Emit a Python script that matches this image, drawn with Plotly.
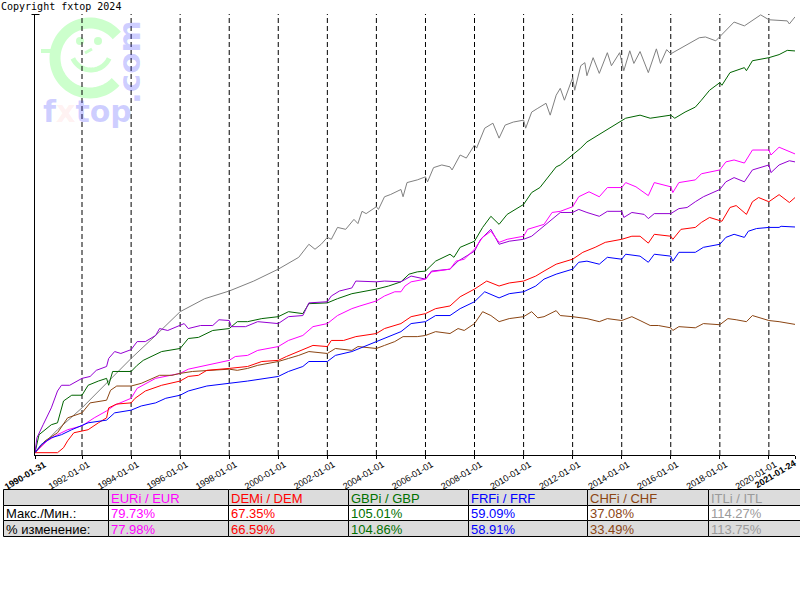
import numpy as np
import plotly.graph_objects as go

# ---------------- data (percent change since 1990-01-31) ----------------
itl_dates = ["1990-01-31", "1991-01", "1992-01", "1993-01", "1994-01", "1995-01", "1996-01", "1997-01",
             "1998-01", "1999-01", "2000-01", "2000-11", "2001-04", "2001-07", "2001-10", "2002-01",
             "2002-03", "2002-06", "2002-10", "2003-02", "2003-04", "2003-06", "2003-08", "2004-01",
             "2004-02", "2004-05", "2004-08", "2005-01", "2005-02", "2005-04", "2005-09", "2006-01",
             "2006-02", "2006-05", "2006-09", "2007-01", "2007-02", "2007-06", "2007-09", "2008-01",
             "2008-02", "2008-06", "2008-10", "2009-01", "2009-04", "2009-08", "2010-01", "2010-02",
             "2010-05", "2010-08", "2010-12", "2011-02", "2011-05", "2011-07", "2011-09", "2012-01",
             "2012-02", "2012-05", "2012-07", "2012-08", "2012-11", "2013-02", "2013-06", "2013-08",
             "2013-12", "2014-02", "2014-05", "2014-07", "2014-10", "2015-02", "2015-06", "2015-08",
             "2015-11", "2016-01", "2016-08", "2017-03", "2017-06", "2017-11", "2018-08", "2019-01",
             "2019-09", "2020-01", "2020-10", "2020-11", "2021-01-24"]
itl_vals = [0, 6.0, 11.7, 18.1, 24.6, 30.6, 36.8, 40.2,
            42.2, 44.8, 47.9, 51.0, 54.4, 53.1, 54.4, 56.2,
            55.7, 58.8, 58.3, 60.9, 59.8, 63.0, 62.4, 64.2,
            63.5, 66.8, 67.4, 68.7, 66.8, 70.5, 71.2, 72.0,
            70.7, 74.4, 75.1, 74.6, 73.8, 77.7, 76.9, 80.3,
            79.5, 84.7, 86.0, 82.1, 85.5, 86.3, 86.8, 84.7,
            88.9, 89.9, 91.2, 88.1, 93.3, 95.1, 92.0, 97.9,
            94.6, 101.0, 101.8, 98.4, 103.1, 99.0, 104.4, 101.0,
            104.4, 99.7, 104.9, 101.6, 104.7, 99.2, 105.4, 101.6,
            105.2, 104.1, 106.2, 108.3, 108.5, 107.5, 112.4, 111.4,
            114.27, 113.0, 112.7, 111.9, 113.75]

gbp_dates = ["1990-01-31", "1990-04", "1990-10", "1991-01", "1991-04", "1991-08", "1992-01", "1992-04",
             "1992-09", "1993-01", "1993-02", "1993-04", "1994-01", "1994-04", "1994-07", "1995-04",
             "1996-01", "1996-05", "1996-10", "1997-05", "1998-01", "1998-05", "1998-10", "1999-05",
             "2000-01", "2000-06", "2001-01", "2001-04", "2002-01", "2002-06", "2003-01", "2003-07",
             "2004-01", "2004-07", "2005-01", "2005-05", "2005-09", "2006-01", "2006-06", "2007-01",
             "2007-03", "2007-06", "2008-01", "2008-05", "2008-09", "2009-01", "2009-05", "2010-01",
             "2010-05", "2010-09", "2011-05", "2011-07", "2012-01", "2012-05", "2012-08", "2013-03",
             "2013-12", "2014-03", "2014-10", "2015-03", "2016-01", "2016-03", "2016-08", "2017-01",
             "2017-04", "2017-08", "2018-01", "2018-02", "2018-06", "2019-01", "2019-02", "2019-05",
             "2020-01", "2020-06", "2020-10", "2021-01-24"]
gbp_vals = [0, 4.7, 7.3, 7.8, 13.5, 15.0, 15.0, 17.6,
            18.7, 19.4, 17.6, 21.2, 21.2, 22.8, 24.1, 26.4,
            27.2, 29.8, 30.1, 31.9, 32.4, 34.2, 34.2, 35.0,
            35.5, 36.8, 36.3, 38.9, 39.1, 40.2, 41.5, 42.0,
            42.7, 43.5, 44.6, 46.6, 47.2, 47.4, 50.0, 51.8,
            51.0, 53.6, 55.2, 58.8, 61.7, 59.6, 62.2, 64.8,
            67.9, 69.2, 74.6, 75.1, 77.7, 79.5, 81.1, 83.4,
            86.3, 87.3, 88.1, 87.3, 88.1, 87.3, 88.9, 90.2,
            92.0, 94.6, 96.6, 95.9, 99.2, 100.5, 99.7, 102.3,
            103.1, 103.9, 105.01, 104.86]

eur_dates = ["1990-01-31", "1990-08", "1991-01", "1991-06", "1992-01", "1992-07", "1993-01", "1993-05",
             "1994-01", "1994-04", "1995-01", "1996-01", "1996-05", "1997-02", "1998-01", "1998-04",
             "1998-10", "1999-03", "2000-01", "2000-06", "2001-01", "2001-06", "2002-01", "2002-06",
             "2003-01", "2003-05", "2004-01", "2004-05", "2004-10", "2005-01", "2005-03", "2005-06",
             "2006-01", "2006-04", "2007-01", "2007-04", "2007-08", "2008-01", "2008-05", "2008-09",
             "2009-01", "2009-05", "2010-01", "2010-03", "2010-11", "2011-03", "2011-07", "2012-01",
             "2012-04", "2012-09", "2013-02", "2013-06", "2014-01", "2014-03", "2014-08", "2015-02",
             "2015-05", "2016-01", "2016-02", "2016-05", "2017-01", "2017-04", "2018-01", "2018-04",
             "2018-08", "2019-01", "2019-05", "2020-01", "2020-02", "2020-06", "2021-01-24"]
eur_vals = [0, 3.1, 4.7, 6.0, 7.0, 9.1, 10.9, 12.4,
            14.2, 16.8, 19.4, 20.7, 21.8, 22.8, 24.1, 25.1,
            25.4, 26.7, 27.7, 29.3, 30.6, 32.9, 33.7, 35.8,
            37.6, 38.3, 39.6, 40.9, 42.0, 42.0, 43.5, 44.6,
            45.3, 47.2, 47.9, 50.0, 50.5, 53.1, 56.2, 57.8,
            54.9, 55.7, 56.5, 58.3, 59.6, 62.7, 63.0, 64.2,
            66.8, 68.1, 66.8, 69.2, 69.2, 70.5, 69.4, 67.1,
            70.5, 69.4, 67.9, 70.5, 71.2, 72.8, 73.8, 75.9,
            76.4, 75.6, 79.0, 79.0, 77.7, 79.73, 77.98]

dem_dates = ["1990-01-31", "1991-01", "1991-04", "1991-06", "1991-09", "1992-04", "1992-09", "1993-01",
             "1993-02", "1993-06", "1994-01", "1994-03", "1994-08", "1995-04", "1996-01", "1996-05",
             "1996-10", "1997-02", "1998-01", "1998-10", "1999-05", "2000-01", "2000-05", "2000-11",
             "2001-06", "2002-01", "2002-03", "2002-09", "2003-03", "2004-01", "2004-05", "2005-01",
             "2005-06", "2006-01", "2006-06", "2007-01", "2007-06", "2008-01", "2008-07", "2009-01",
             "2009-06", "2010-01", "2010-07", "2010-11", "2011-05", "2012-01", "2012-06", "2012-12",
             "2013-05", "2014-01", "2014-06", "2014-10", "2015-02", "2015-05", "2016-01", "2016-02",
             "2016-06", "2017-01", "2017-04", "2017-08", "2018-02", "2018-06", "2018-09", "2019-02",
             "2019-05", "2019-08", "2020-01", "2020-06", "2020-11", "2021-01-24"]
dem_vals = [0, 0, 1.3, 3.1, 5.2, 6.0, 7.8, 9.1,
            11.7, 12.7, 13.0, 14.2, 16.1, 17.6, 18.7, 19.9,
            20.2, 21.5, 22.0, 22.5, 23.8, 24.1, 25.1, 26.4,
            28.0, 27.7, 29.3, 29.3, 30.3, 31.1, 32.4, 33.7,
            35.5, 36.3, 37.6, 38.3, 40.7, 42.7, 44.8, 43.5,
            44.3, 44.8, 46.1, 47.4, 49.2, 50.5, 52.3, 53.6,
            54.9, 55.7, 56.5, 56.5, 54.7, 57.0, 56.5, 55.7,
            58.3, 58.8, 60.1, 61.4, 60.4, 64.0, 64.5, 62.2,
            65.5, 66.6, 65.5, 67.35, 65.3, 66.59]

frf_dates = ["1990-01-31", "1990-05", "1990-10", "1991-03", "1991-08", "1992-01", "1992-04", "1993-01",
             "1993-05", "1994-01", "1994-06", "1995-01", "1995-06", "1996-01", "1996-05", "1997-02",
             "1998-01", "1998-10", "2000-01", "2000-06", "2001-01", "2001-04", "2002-01", "2002-05",
             "2003-01", "2003-07", "2004-01", "2004-05", "2005-01", "2005-06", "2006-01", "2006-06",
             "2007-01", "2007-06", "2008-01", "2008-06", "2009-01", "2009-06", "2010-01", "2010-07",
             "2010-11", "2011-05", "2012-01", "2012-04", "2012-08", "2013-02", "2013-06", "2014-01",
             "2014-03", "2014-10", "2015-02", "2015-05", "2016-01", "2016-02", "2016-05", "2017-01",
             "2017-05", "2018-01", "2018-04", "2018-08", "2019-01", "2019-03", "2019-07", "2020-01",
             "2020-06", "2020-07", "2021-01-24"]
frf_vals = [0, 2.1, 3.9, 4.7, 6.0, 7.0, 7.8, 8.5,
            10.4, 11.1, 12.2, 13.0, 14.2, 15.0, 16.1, 17.4,
            18.1, 18.7, 19.9, 21.2, 22.5, 23.8, 23.8, 25.4,
            26.4, 27.7, 29.0, 29.8, 31.6, 33.7, 34.2, 35.8,
            35.8, 37.6, 39.4, 42.0, 40.4, 41.5, 42.0, 43.5,
            45.3, 46.6, 47.9, 49.7, 50.0, 49.2, 51.0, 50.5,
            51.8, 51.3, 49.7, 51.8, 51.3, 50.0, 52.3, 52.3,
            53.6, 54.4, 56.2, 57.0, 56.2, 57.8, 58.5, 58.8,
            58.8, 59.09, 58.91]

chf_dates = ["1990-01-31", "1990-07", "1991-01", "1991-06", "1992-01", "1992-03", "1992-05", "1993-01",
             "1993-03", "1993-06", "1994-01", "1994-06", "1995-01", "1995-03", "1995-09", "1996-01",
             "1996-07", "1997-02", "1998-01", "1998-05", "1998-10", "1999-03", "2000-01", "2000-06",
             "2000-11", "2001-04", "2002-01", "2002-05", "2003-01", "2003-04", "2004-01", "2004-05",
             "2004-10", "2005-02", "2005-09", "2006-01", "2006-06", "2007-01", "2007-05", "2007-08",
             "2008-01", "2008-05", "2008-09", "2009-01", "2009-06", "2010-01", "2010-05", "2010-08",
             "2010-11", "2011-05", "2011-07", "2012-01", "2012-08", "2013-02", "2013-06", "2014-01",
             "2014-06", "2014-10", "2015-03", "2015-07", "2016-01", "2016-02", "2016-05", "2017-01",
             "2017-05", "2018-01", "2018-05", "2018-09", "2019-02", "2019-05", "2020-01", "2020-06",
             "2021-01-24"]
chf_vals = [0, 3.1, 5.2, 9.1, 10.4, 11.7, 13.0, 13.7,
            16.3, 17.4, 17.4, 18.1, 19.7, 20.2, 20.2, 20.7,
            21.2, 21.5, 21.8, 21.5, 22.0, 22.8, 23.8, 24.6,
            25.4, 26.4, 25.9, 27.2, 26.7, 27.7, 27.2, 28.0,
            29.0, 30.3, 30.3, 30.6, 31.6, 31.1, 32.4, 31.9,
            33.7, 36.8, 35.8, 34.2, 35.0, 35.5, 36.8, 35.2,
            35.5, 37.08, 35.8, 35.5, 35.0, 34.2, 35.0, 34.5,
            35.5, 34.5, 33.2, 33.2, 32.6, 31.9, 32.9, 32.6,
            33.7, 33.4, 35.0, 34.7, 34.2, 35.8, 34.5, 34.2,
            33.49]

# seventh (purple) series without a table column
xxx_dates = ["1990-01-31", "1990-03", "1990-06", "1990-10", "1991-01", "1991-03", "1991-07", "1992-01",
             "1992-05", "1992-08", "1993-01", "1993-02", "1993-05", "1993-08", "1994-01", "1994-04",
             "1994-08", "1995-01", "1995-03", "1995-07", "1996-03", "1996-05", "1996-11", "1997-05",
             "1997-08", "1998-01", "1998-02", "1998-09", "1999-03", "2000-01", "2000-06", "2001-01",
             "2001-04", "2002-01", "2002-03", "2002-07", "2003-01", "2003-03", "2004-01", "2004-05",
             "2005-01", "2005-06", "2006-01", "2006-04", "2007-01", "2007-05", "2008-01", "2008-04",
             "2008-09", "2009-01", "2009-06", "2010-01", "2010-05", "2010-11", "2011-02", "2011-07",
             "2012-01", "2012-04", "2012-08", "2013-02", "2013-06", "2014-01", "2014-02", "2014-06",
             "2014-12", "2015-02", "2015-05", "2016-01", "2016-05", "2016-09", "2017-01", "2017-05",
             "2018-01", "2018-04", "2018-08", "2019-01", "2019-05", "2020-01", "2020-02", "2020-06",
             "2020-11", "2021-01-24"]
xxx_vals = [0, 3.9, 7.3, 11.7, 16.1, 17.6, 17.6, 19.4,
            19.9, 21.5, 22.5, 24.6, 26.4, 25.9, 26.9, 29.0,
            29.0, 30.6, 32.4, 31.9, 33.7, 32.4, 33.2, 33.2,
            34.7, 34.5, 32.9, 32.9, 34.2, 33.7, 35.5, 35.8,
            39.1, 39.4, 40.9, 42.2, 43.0, 44.8, 44.6, 44.8,
            44.6, 46.1, 45.3, 47.4, 47.9, 50.0, 52.6, 55.7,
            58.3, 54.4, 55.2, 55.7, 56.5, 59.1, 60.4, 62.7,
            62.7, 63.5, 62.7, 61.7, 63.0, 63.0, 61.4, 62.7,
            62.2, 61.1, 62.4, 62.4, 63.7, 64.0, 65.5, 66.8,
            68.7, 70.7, 71.8, 70.7, 73.8, 75.1, 73.1, 75.1,
            76.2, 75.9]

# table contents
col_headers = ["EURi / EUR", "DEMi / DEM", "GBPi / GBP", "FRFi / FRF", "CHFi / CHF", "ITLi / ITL"]
row_labels = ["Макс./Мин.:", "% изменение:"]
maxmin_txt = ["79.73%", "67.35%", "105.01%", "59.09%", "37.08%", "114.27%"]
change_txt = ["77.98%", "66.59%", "104.86%", "58.91%", "33.49%", "113.75%"]

# x ticks
tick_dates = ["1992-01-01", "1994-01-01", "1996-01-01", "1998-01-01", "2000-01-01", "2002-01-01",
              "2004-01-01", "2006-01-01", "2008-01-01", "2010-01-01", "2012-01-01", "2014-01-01",
              "2016-01-01", "2018-01-01", "2020-01-01"]
start_date, end_date = "1990-01-31", "2021-01-24"

# ---------------- styling ----------------
C_EUR, C_DEM, C_GBP, C_FRF, C_CHF, C_ITL, C_XXX = (
    "#ff00ff", "#ff0000", "#006400", "#0000ff", "#8b4513", "#808080", "#9400d3")
TXT_COLORS = ["#ff00ff", "#ff0000", "#007000", "#0000ff", "#8b4513", "#9a9a9a"]

W, H = 800, 600
def px(X):
    return X / W
def py(Y):
    return 1 - Y / H

fig = go.Figure()

series = [
    (itl_dates, itl_vals, C_ITL),
    (gbp_dates, gbp_vals, C_GBP),
    (xxx_dates, xxx_vals, C_XXX),
    (eur_dates, eur_vals, C_EUR),
    (chf_dates, chf_vals, C_CHF),
    (dem_dates, dem_vals, C_DEM),
    (frf_dates, frf_vals, C_FRF),
]
for d, v, c in series:
    fig.add_trace(go.Scatter(x=d, y=v, mode="lines", line=dict(color=c, width=1),
                             hoverinfo="skip", showlegend=False))

shapes = []
annotations = []

# logo: green smiley "C"
ang = np.radians(np.linspace(40, 317, 60))
cx, cy, r = 90, 58, 35
pts = [(px(cx + r * np.cos(a)), py(cy - r * np.sin(a))) for a in ang]
shapes.append(dict(type="path", xref="paper", yref="paper", layer="below",
                   path="M " + " L ".join(f"{x:.5f},{y:.5f}" for x, y in pts),
                   line=dict(color="#ccffcc", width=11)))
ang2 = np.radians(np.linspace(205, 335, 30))
cx2, cy2, r2 = 91, 50, 20
pts2 = [(px(cx2 + r2 * np.cos(a)), py(cy2 - r2 * np.sin(a))) for a in ang2]
shapes.append(dict(type="path", xref="paper", yref="paper", layer="below",
                   path="M " + " L ".join(f"{x:.5f},{y:.5f}" for x, y in pts2),
                   line=dict(color="#ccffcc", width=5)))
for ex in (80, 98):
    shapes.append(dict(type="circle", xref="paper", yref="paper", layer="below",
                       x0=px(ex - 4), x1=px(ex + 4), y0=py(45), y1=py(37),
                       fillcolor="#ccffcc", line=dict(width=0)))
shapes.append(dict(type="line", xref="paper", yref="paper", layer="below",
                   x0=px(85), y0=py(53), x1=px(92), y1=py(49), line=dict(color="#ccffcc", width=3)))
shapes.append(dict(type="line", xref="paper", yref="paper", layer="below",
                   x0=px(41), y0=py(51), x1=px(53), y1=py(51), line=dict(color="#ccffcc", width=4)))

# dashed vertical lines at the two-year ticks
for d in tick_dates:
    shapes.append(dict(type="line", xref="x", yref="paper", layer="below",
                       x0=d, x1=d, y0=py(455), y1=py(14),
                       line=dict(color="black", width=1, dash="5px,3px")))
# small cap at the top of the y axis
shapes.append(dict(type="line", xref="paper", yref="paper", x0=px(31.5), x1=px(39.5),
                   y0=py(14.5), y1=py(14.5), line=dict(color="black", width=1)))

# ---- table drawn with shapes + annotations ----
col_x = [3, 108, 228, 348, 468, 587, 708, 801]
row_y = [489, 505, 520, 536]
GRAY = "#dcdcdc"
row_fill = [GRAY, "white", GRAY]
table_rows = [[""] + col_headers,
              [row_labels[0]] + maxmin_txt,
              [row_labels[1]] + change_txt]
col_colors = ["black"] + TXT_COLORS
for ri in range(3):
    for ci in range(7):
        shapes.append(dict(type="rect", xref="paper", yref="paper", layer="below",
                           x0=px(col_x[ci] + 0.5), x1=px(col_x[ci + 1] + 0.5),
                           y0=py(row_y[ri] + 0.5), y1=py(row_y[ri + 1] + 0.5),
                           fillcolor=row_fill[ri], line=dict(color="black", width=1)))
        txt = table_rows[ri][ci]
        if txt:
            annotations.append(dict(text=txt, xref="paper", yref="paper",
                                    x=px(col_x[ci] + 2), y=py((row_y[ri] + row_y[ri + 1]) / 2 + 1),
                                    xanchor="left", yanchor="middle", showarrow=False, borderpad=0,
                                    font=dict(family="Liberation Sans, Arial", size=13,
                                              color=col_colors[ci])))

# bold start / end date labels (placed so that they stay inside the page)
annotations += [
    dict(text="<b>" + start_date + "</b>", xref="paper", yref="paper", textangle=-31,
         x=px(1), y=py(458), xanchor="left", yanchor="top", showarrow=False, borderpad=0,
         font=dict(family="Liberation Sans, Arial", size=9, color="black")),
    dict(text="<b>" + end_date + "</b>", xref="paper", yref="paper", textangle=-31,
         x=px(799), y=py(456), xanchor="right", yanchor="top", showarrow=False, borderpad=0,
         font=dict(family="Liberation Sans, Arial", size=9, color="black")),
]

annotations += [
    dict(text="Copyright fxtop 2024", xref="paper", yref="paper", x=0, y=1.0,
         xanchor="left", yanchor="top", showarrow=False, borderpad=0,
         font=dict(family="DejaVu Sans Mono", size=10, color="black")),
    dict(text="f<span style='color:rgba(255,120,120,0.45)'>x</span>top", xref="paper", yref="paper",
         x=px(87.5), y=py(112), xanchor="center", yanchor="middle", showarrow=False, borderpad=0,
         font=dict(family="DejaVu Sans", size=30, color="rgba(60,60,255,0.25)", weight="bold")),
    dict(text=".com", xref="paper", yref="paper", textangle=-90,
         x=px(129), y=py(62), xanchor="center", yanchor="middle", showarrow=False, borderpad=0,
         font=dict(family="DejaVu Sans", size=31, color="rgba(60,60,255,0.25)", weight="bold")),
]

tickvals = [start_date] + tick_dates + [end_date]
ticktext = [""] + tick_dates + [""]

fig.update_layout(
    width=W, height=H, margin=dict(l=0, r=0, t=0, b=0, autoexpand=False),
    paper_bgcolor="white", plot_bgcolor="white",
    showlegend=False, shapes=shapes, annotations=annotations,
    xaxis=dict(type="date", range=[start_date, end_date], domain=[px(35), px(795)],
               automargin=False,
               tickmode="array", tickvals=tickvals, ticktext=ticktext, tickangle=-31,
               tickfont=dict(family="Liberation Sans, Arial", size=9, color="black"),
               ticks="outside", ticklen=3, tickcolor="black", ticklabelshift=6,
               ticklabelstandoff=-3, ticklabeloverflow="allow",
               showgrid=False, zeroline=False, showline=True, linecolor="black", linewidth=1),
    yaxis=dict(range=[-0.6, 114.5], domain=[py(455), py(14)], automargin=False,
               showticklabels=False, ticks="", showgrid=False, zeroline=False,
               showline=True, linecolor="black", linewidth=1),
)

fig.write_html("out.html")
